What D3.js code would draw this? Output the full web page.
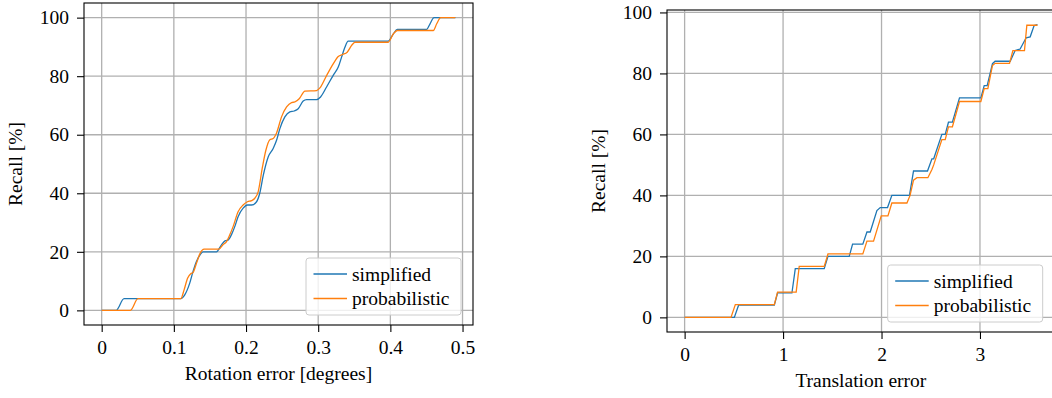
<!DOCTYPE html>
<html>
<head>
<meta charset="utf-8">
<script src="https://cdn.jsdelivr.net/npm/d3@7"></script>
<style>
body { margin: 0; background: #fff; }
text { font-family: "Liberation Serif", "Times New Roman", serif; fill: #000; }
</style>
</head>
<body>
<script>
// rotation error panel
let rotTicks = [0, 0.1, 0.2, 0.3, 0.4, 0.5]
let recallTicks = [0, 20, 40, 60, 80, 100]
let rotSimplifiedX = [0, 0.020, 0.031, 0.1096, 0.1151, 0.122, 0.1266, 0.1313, 0.1373, 0.1405, 0.159, 0.166, 0.1714, 0.175, 0.1797, 0.1844, 0.189, 0.196, 0.202, 0.2077, 0.2146, 0.219, 0.2238, 0.2307, 0.2376, 0.2423, 0.2469, 0.2538, 0.2607, 0.2667, 0.2723, 0.2792, 0.2839, 0.2978, 0.3033, 0.3116, 0.3208, 0.3278, 0.3324, 0.337, 0.3416, 0.397, 0.404, 0.4096, 0.4503, 0.455, 0.4605, 0.49]
let rotSimplifiedY = [0, 0, 4, 4, 5.3, 9.3, 13.3, 16.7, 19.3, 20, 20, 22.4, 23.8, 24, 25.8, 28.6, 32, 34.9, 36, 36, 37.1, 40, 46, 52.4, 55.3, 58.1, 62.1, 66.1, 67.8, 68.1, 68.9, 71.5, 72, 72, 72.9, 76.3, 80.3, 83.1, 86.5, 89.9, 92, 92, 94.4, 96, 96, 97.9, 100, 100]
let rotProbX = [0, 0.0398, 0.0503, 0.1096, 0.1142, 0.119, 0.1234, 0.1266, 0.1313, 0.136, 0.142, 0.1623, 0.168, 0.173, 0.1775, 0.1821, 0.189, 0.196, 0.202, 0.2077, 0.2122, 0.2168, 0.2228, 0.2275, 0.233, 0.2376, 0.2423, 0.2492, 0.2562, 0.2631, 0.2677, 0.2737, 0.2816, 0.2978, 0.3024, 0.3116, 0.3208, 0.3278, 0.3338, 0.3402, 0.3463, 0.3509, 0.397, 0.404, 0.4096, 0.4595, 0.4642, 0.4698, 0.49]
let rotProbY = [0, 0, 4, 4, 7, 11, 12.5, 12.9, 16.1, 19.3, 20.9, 20.9, 22.4, 23.5, 25.8, 28.6, 33.7, 36, 37.1, 37.5, 38.3, 40.5, 49, 54.7, 58.3, 58.7, 60.6, 66.1, 69.5, 71, 71.2, 72.3, 74.9, 75.1, 76, 80.2, 84.2, 86.7, 87.4, 88.2, 90.5, 91.6, 91.6, 94.4, 95.6, 95.6, 97.9, 100, 100]

// translation error panel
let transTicks = [0, 1, 2, 3]
let transSimplifiedX = [0, 0.505, 0.548, 0.911, 0.944, 1.09, 1.124, 1.418, 1.456, 1.672, 1.706, 1.81, 1.852, 1.885, 1.953, 1.987, 2.061, 2.105, 2.284, 2.325, 2.467, 2.512, 2.53, 2.613, 2.647, 2.68, 2.72, 2.792, 3.009, 3.043, 3.073, 3.127, 3.154, 3.307, 3.357, 3.408, 3.469, 3.51, 3.55, 3.584]
let transSimplifiedY = [0, 0, 4, 4, 8, 8, 16, 16, 20, 20, 24, 24, 28, 28, 35, 36, 36, 40, 40, 48, 48, 52, 52, 60, 60, 64, 64, 72, 72, 76, 76, 83.2, 84, 84, 87.5, 88, 91.7, 92, 95.7, 96]
let transProbX = [0, 0.471, 0.515, 0.911, 0.944, 1.133, 1.164, 1.418, 1.456, 1.81, 1.852, 1.919, 1.997, 2.065, 2.105, 2.258, 2.29, 2.325, 2.36, 2.471, 2.512, 2.53, 2.613, 2.647, 2.68, 2.72, 2.792, 3.009, 3.043, 3.08, 3.127, 3.154, 3.3, 3.334, 3.452, 3.476, 3.584]
let transProbY = [0, 0, 4.2, 4.2, 8.3, 8.3, 16.7, 16.7, 20.8, 20.8, 25, 25, 33.3, 33.3, 37.5, 37.5, 40, 45, 45.8, 45.8, 48.5, 50, 58.3, 58.3, 62.5, 62.5, 70.8, 70.8, 75, 75, 82.6, 83.3, 83.3, 87.5, 87.5, 95.8, 95.8]

let seriesNames = ["simplified", "probabilistic"]
let colors = ["#1f77b4", "#ff7f0e"]

let w = 1052
let h = 398
let fs = 19.5

let svg = d3.select("body")
    .append("svg")
    .attr("width", w)
    .attr("height", h)

function panel(id, box, xDomain, yDomain, xTicks, xLabel, series, curve) {
    let xScale = d3.scaleLinear().domain(xDomain).range([box.left, box.right])
    let yScale = d3.scaleLinear().domain(yDomain).range([box.bottom, box.top])
    let g = svg.append("g")

    g.append("clipPath").attr("id", id)
        .append("rect")
        .attr("x", box.left).attr("y", box.top)
        .attr("width", box.right - box.left).attr("height", box.bottom - box.top)

    // grid
    g.selectAll(".gx").data(xTicks).enter().append("line")
        .attr("x1", d => xScale(d)).attr("x2", d => xScale(d))
        .attr("y1", box.top).attr("y2", box.bottom)
        .attr("stroke", "#b0b0b0").attr("stroke-width", 1.3)
    g.selectAll(".gy").data(recallTicks).enter().append("line")
        .attr("x1", box.left).attr("x2", box.right)
        .attr("y1", d => yScale(d)).attr("y2", d => yScale(d))
        .attr("stroke", "#b0b0b0").attr("stroke-width", 1.3)

    // curves
    let line = d3.line().x(d => xScale(d[0])).y(d => yScale(d[1])).curve(curve)
    series.forEach((s, i) => {
        g.append("path")
            .attr("d", line(s.x.map((v, j) => [v, s.y[j]])))
            .attr("fill", "none")
            .attr("stroke", colors[i])
            .attr("stroke-width", 1.3)
            .attr("clip-path", `url(#${id})`)
    })

    // spines
    g.append("rect")
        .attr("x", box.left).attr("y", box.top)
        .attr("width", box.right - box.left).attr("height", box.bottom - box.top)
        .attr("fill", "none").attr("stroke", "#000").attr("stroke-width", 1.1)

    let xAxis = d3.axisBottom(xScale).tickValues(xTicks).tickFormat(d => String(d)).tickSize(7).tickPadding(8)
    let yAxis = d3.axisLeft(yScale).tickValues(recallTicks).tickFormat(d => String(d)).tickSize(7).tickPadding(8)
    let gx = g.append("g").attr("transform", `translate(0,${box.bottom})`).call(xAxis)
    let gy = g.append("g").attr("transform", `translate(${box.left},0)`).call(yAxis)
    ;[gx, gy].forEach(a => {
        a.select(".domain").remove()
        a.selectAll("line").attr("stroke", "#000").attr("stroke-width", 1.1)
        a.selectAll("text").attr("font-family", null).attr("font-size", fs)
        a.attr("font-family", null).attr("font-size", fs)
    })

    g.append("text")
        .attr("x", (box.left + box.right) / 2)
        .attr("y", box.bottom + 55)
        .attr("text-anchor", "middle")
        .attr("font-size", fs)
        .text(xLabel)
    g.append("text")
        .attr("transform", `translate(${box.left - 62},${(box.top + box.bottom) / 2}) rotate(-90)`)
        .attr("text-anchor", "middle")
        .attr("font-size", fs)
        .text("Recall [%]")

    // legend
    let lw = 155, lh = 57
    let lx = box.right - 12 - lw, ly = box.bottom - 10 - lh
    let lg = g.append("g").attr("transform", `translate(${lx},${ly})`)
    lg.append("rect")
        .attr("width", lw).attr("height", lh).attr("rx", 3)
        .attr("fill", "#fff").attr("fill-opacity", 0.8)
        .attr("stroke", "#cccccc").attr("stroke-width", 1)
    seriesNames.forEach((n, i) => {
        let yy = 16 + i * 24.5
        lg.append("line")
            .attr("x1", 7.5).attr("x2", 41).attr("y1", yy).attr("y2", yy)
            .attr("stroke", colors[i]).attr("stroke-width", 1.3)
        lg.append("text")
            .attr("x", 46).attr("y", yy + 6.5)
            .attr("font-size", fs)
            .text(n)
    })
}

panel("clipRot", {left: 84, right: 473, top: 3, bottom: 325},
    [-0.0245, 0.5145], [-5, 105], rotTicks, "Rotation error [degrees]",
    [{x: rotSimplifiedX, y: rotSimplifiedY}, {x: rotProbX, y: rotProbY}], d3.curveMonotoneX)

panel("clipTrans", {left: 667, right: 1054.7, top: 10, bottom: 332},
    [-0.179, 3.759], [-4.8, 100.8], transTicks, "Translation error",
    [{x: transSimplifiedX, y: transSimplifiedY}, {x: transProbX, y: transProbY}], d3.curveLinear)
</script>
</body>
</html>
